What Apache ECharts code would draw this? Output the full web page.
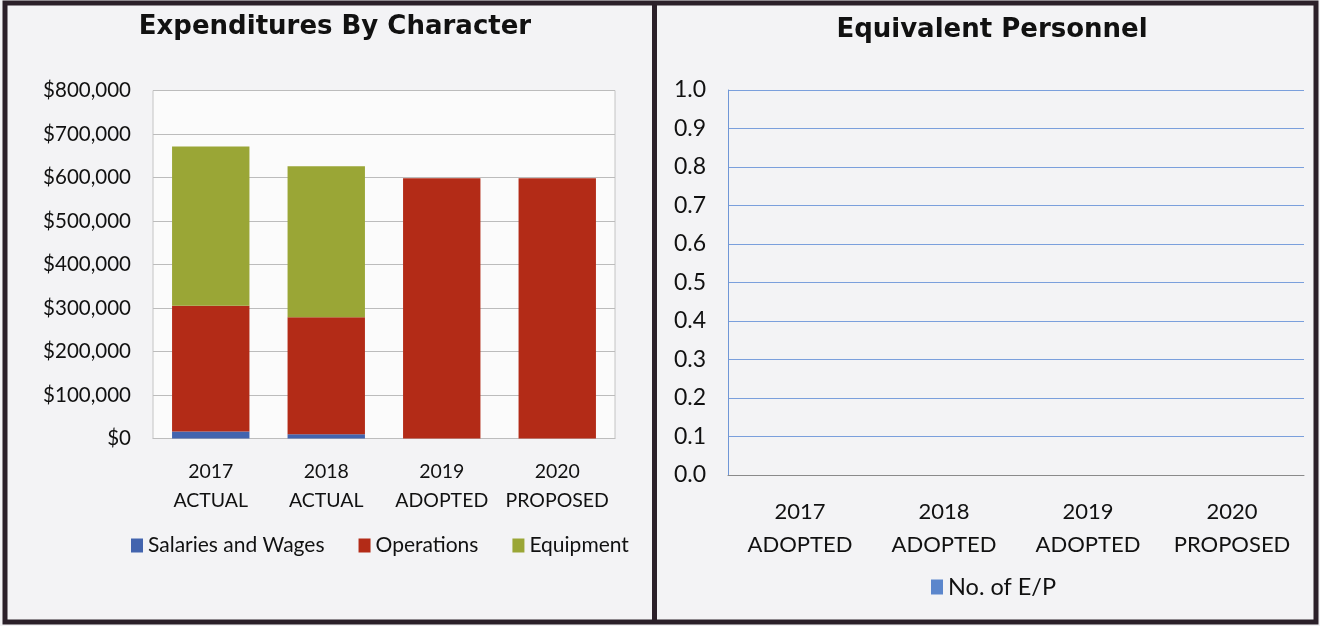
<!DOCTYPE html>
<html>
<head>
<meta charset="utf-8">
<title>Expenditures By Character / Equivalent Personnel</title>
<script src="https://cdn.jsdelivr.net/npm/echarts@6/dist/echarts.min.js"></script>
<style>
  html, body { margin: 0; padding: 0; background: #f3f3f5; }
  #main { width: 1320px; height: 626px; }
</style>
</head>
<body>
<div id="main"></div>
<script>
// data
var years = ["2017\nACTUAL", "2018\nACTUAL", "2019\nADOPTED", "2020\nPROPOSED"];
var salaries = [16000, 10000, 0, 0];
var operations = [289000, 269000, 598000, 598000];
var equipment = [366000, 347000, 0, 0];

var epYears = ["2017\nADOPTED", "2018\nADOPTED", "2019\nADOPTED", "2020\nPROPOSED"];
var epCount = [0, 0, 0, 0];

var myChart = echarts.init(document.getElementById('main'));

var font = 'Lato';
var frame = '#2b2029';

var option = {
    backgroundColor: '#f3f3f5',
    animation: false,
    title: [
        {
            text: 'Expenditures By Character',
            left: 330, top: 9, textAlign: 'center',
            textStyle: { fontFamily: 'DejaVu Sans', fontWeight: 'bold', fontSize: 26, color: '#111' }
        },
        {
            text: 'Equivalent Personnel',
            left: 987, top: 12, textAlign: 'center',
            textStyle: { fontFamily: 'DejaVu Sans', fontWeight: 'bold', fontSize: 26, color: '#111' }
        }
    ],
    legend: [
        {
            data: ['Salaries and Wages', 'Operations', 'Equipment'],
            left: 126, top: 530,
            icon: 'rect', itemWidth: 12, itemHeight: 14, itemGap: 34,
            textStyle: { fontFamily: font, fontSize: 21, color: '#111' }
        },
        {
            data: ['No. of E/P'],
            left: 926, top: 570,
            icon: 'rect', itemWidth: 12, itemHeight: 15,
            textStyle: { fontFamily: font, fontSize: 23.5, color: '#111' }
        }
    ],
    grid: [
        { left: 153, top: 90.5, width: 462, height: 348, show: true, backgroundColor: '#fbfbfb', borderColor: '#c4c4c4' },
        { left: 728, top: 90, width: 576, height: 385 }
    ],
    xAxis: [
        {
            type: 'category', gridIndex: 0, data: years,
            axisLine: { lineStyle: { color: '#bdbdbd' } },
            axisTick: { show: false },
            axisLabel: { interval: 0, margin: 19, lineHeight: 29, fontFamily: font, fontSize: 19.5, color: '#111' }
        },
        {
            type: 'category', gridIndex: 1, data: epYears,
            axisLine: { lineStyle: { color: '#8a8a8a' } },
            axisTick: { show: false },
            axisLabel: { interval: 0, margin: 20, lineHeight: 33, fontFamily: font, fontSize: 22, color: '#111' }
        }
    ],
    yAxis: [
        {
            type: 'value', gridIndex: 0, min: 0, max: 800000, interval: 100000,
            axisLine: { show: false },
            axisTick: { show: false },
            splitLine: { lineStyle: { color: '#bcbcbc' } },
            axisLabel: {
                margin: 22, fontFamily: font, fontSize: 20.5, color: '#111',
                formatter: function (v) { return '$' + v.toLocaleString('en-US'); }
            }
        },
        {
            type: 'value', gridIndex: 1, min: 0, max: 1, interval: 0.1,
            axisLine: { show: true, lineStyle: { color: '#6f96d6' } },
            axisTick: { show: false },
            splitLine: { lineStyle: { color: '#7a9fdc' } },
            axisLabel: {
                margin: 22, fontFamily: font, fontSize: 23, color: '#111',
                formatter: function (v) { return v.toFixed(1); }
            }
        }
    ],
    series: [
        {
            name: 'Salaries and Wages', type: 'bar', stack: 'exp',
            xAxisIndex: 0, yAxisIndex: 0, barWidth: '67%',
            itemStyle: { color: '#4264ae' }, data: salaries
        },
        {
            name: 'Operations', type: 'bar', stack: 'exp',
            xAxisIndex: 0, yAxisIndex: 0, barWidth: '67%',
            itemStyle: { color: '#b32b17' }, data: operations
        },
        {
            name: 'Equipment', type: 'bar', stack: 'exp',
            xAxisIndex: 0, yAxisIndex: 0, barWidth: '67%',
            itemStyle: { color: '#9aa636' }, data: equipment
        },
        {
            name: 'No. of E/P', type: 'bar',
            xAxisIndex: 1, yAxisIndex: 1, barWidth: '60%',
            itemStyle: { color: '#5b86cc' }, data: epCount
        }
    ],
    // dark frame round the two panels
    graphic: [
        { type: 'rect', shape: { x: 5, y: 3, width: 1311, height: 619 }, style: { fill: 'none', stroke: frame, lineWidth: 5 }, silent: true },
        { type: 'rect', shape: { x: 652, y: 3, width: 5, height: 619 }, style: { fill: frame }, silent: true }
    ]
};

myChart.setOption(option);

window.addEventListener('resize', function () {
    myChart.resize();
});
</script>
</body>
</html>
